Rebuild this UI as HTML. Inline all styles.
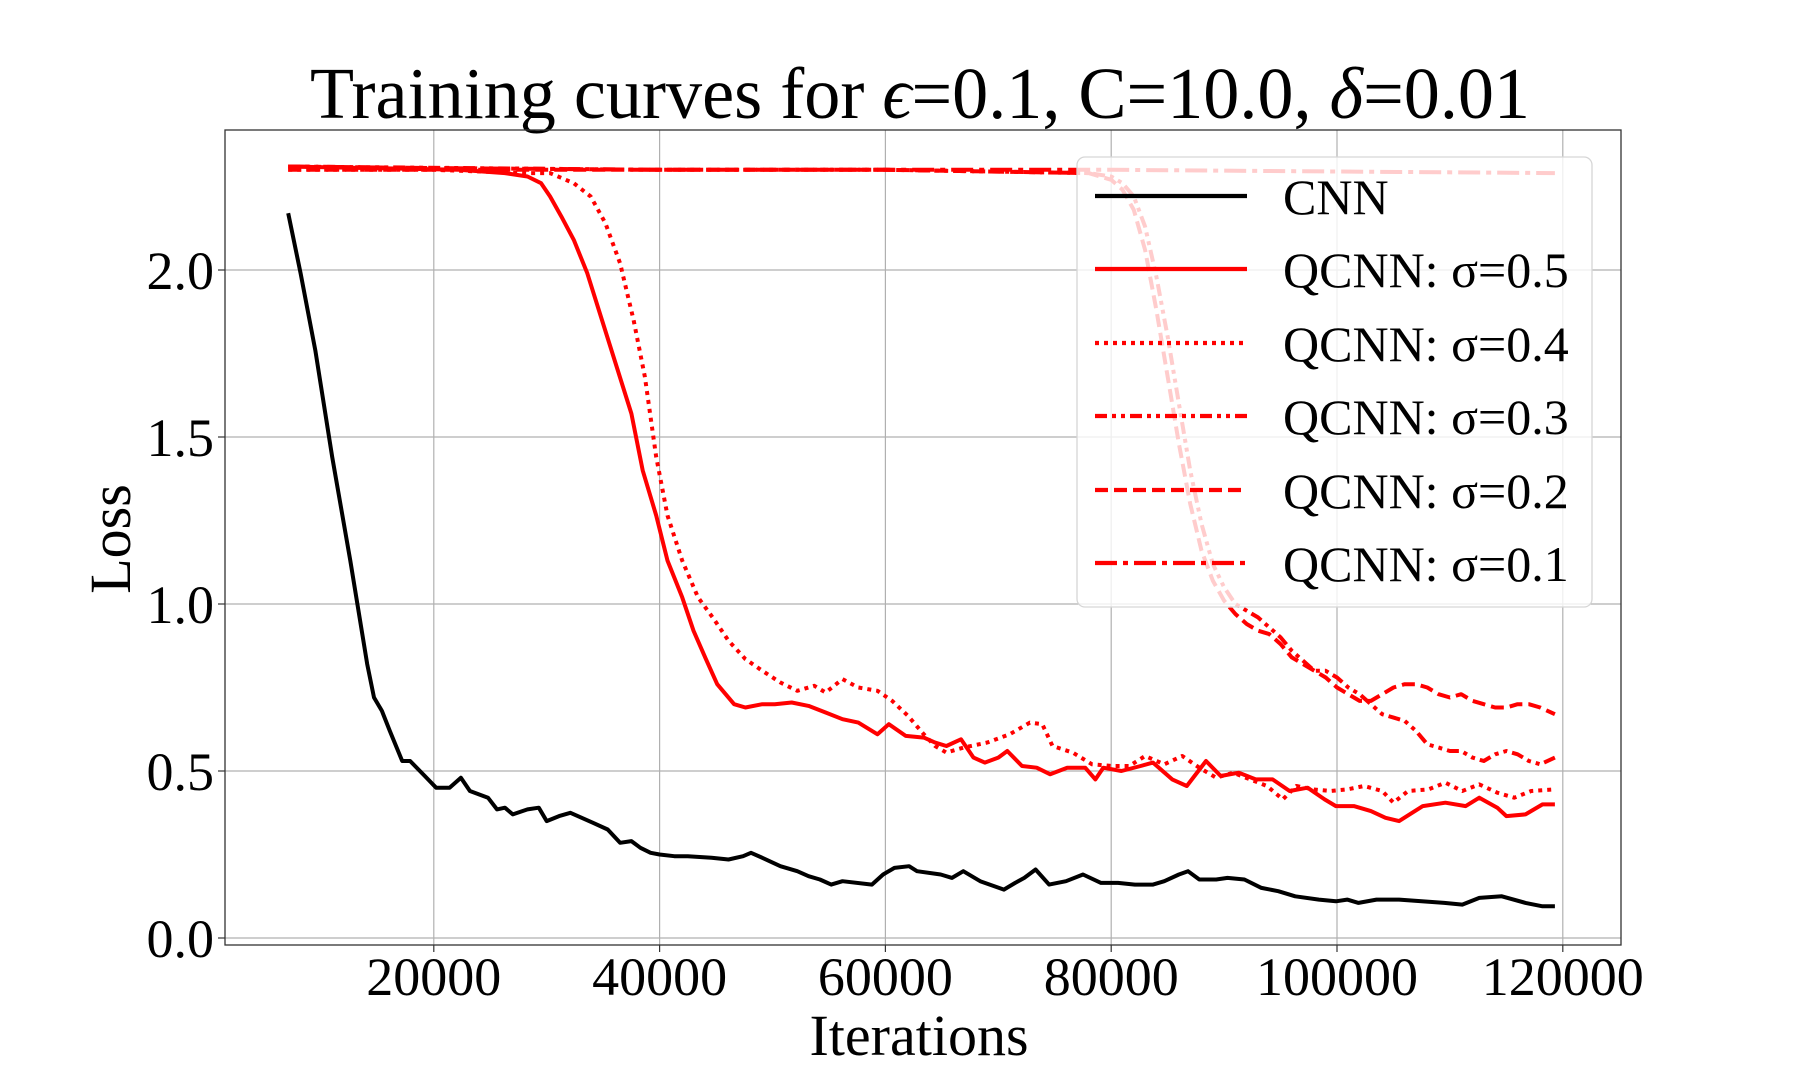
<!DOCTYPE html>
<html><head><meta charset="utf-8"><style>
html,body{margin:0;padding:0;background:#fff}
svg{display:block}
text{font-family:"Liberation Serif",serif;fill:#000}
</style></head><body>
<svg id="chart" width="1800" height="1080" viewBox="0 0 1800 1080" xmlns="http://www.w3.org/2000/svg">
<rect width="1800" height="1080" fill="#fff"/>
<text x="920" y="118" font-size="73" text-anchor="middle" textLength="1220" lengthAdjust="spacingAndGlyphs">Training curves for <tspan font-style="italic">ϵ</tspan>=0.1, C=10.0, <tspan font-style="italic">δ</tspan>=0.01</text>
<g id="grid"></g>
<g id="series"></g>
<rect x="225" y="130" width="1396" height="815" fill="none" stroke="#333" stroke-width="1.3"/>
<g id="ticks"></g>
<text x="919" y="1055" font-size="58" text-anchor="middle">Iterations</text>
<text x="0" y="0" font-size="58" text-anchor="middle" transform="translate(130,539) rotate(-90)">Loss</text>
<g id="legend"></g>
</svg>
<script>
const xTicks=[20000,40000,60000,80000,100000,120000];
const yTicks=[0.0,0.5,1.0,1.5,2.0];
const yTickLabels=["0.0","0.5","1.0","1.5","2.0"];
const cnnX=[7100,8200,9500,11000,12600,14100,14700,15400,16100,17200,17900,19200,20200,21400,22400,23200,24800,25600,26300,27000,28300,29300,30000,31100,32100,33100,34100,35400,36500,37500,38300,39200,40000,41300,42500,44600,46100,47400,48100,49100,50700,52200,53200,54200,55200,56200,58800,59800,60800,62100,62800,64900,65900,66900,68400,70500,71500,72300,73300,74500,76000,77500,79100,80600,82100,83700,84700,86000,86800,87800,89300,90300,91800,93300,94800,96300,98400,99900,100900,101900,103500,105500,107500,109500,111100,112600,114600,116700,118200,119300];
const cnnY=[2.17,1.99,1.76,1.44,1.13,0.82,0.72,0.68,0.62,0.53,0.53,0.485,0.45,0.45,0.48,0.44,0.42,0.385,0.39,0.37,0.385,0.39,0.35,0.365,0.375,0.36,0.345,0.325,0.285,0.29,0.27,0.255,0.25,0.245,0.245,0.24,0.235,0.245,0.255,0.24,0.215,0.2,0.185,0.175,0.16,0.17,0.16,0.19,0.21,0.215,0.2,0.19,0.18,0.2,0.17,0.145,0.165,0.18,0.205,0.16,0.17,0.19,0.165,0.165,0.16,0.16,0.17,0.19,0.2,0.175,0.175,0.18,0.175,0.15,0.14,0.125,0.115,0.11,0.115,0.105,0.115,0.115,0.11,0.105,0.1,0.12,0.125,0.105,0.095,0.095];
const s5X=[7100,22200,26300,28300,29500,30300,31300,32400,33600,34900,36200,37500,38500,39700,40700,42000,43000,44100,45100,46600,47600,49100,50200,51700,53200,54700,56200,57600,59300,60300,61800,63400,64400,65400,66700,67800,68800,70000,70800,72100,73400,74600,76100,77700,78600,79300,80900,82600,83700,85400,86700,88400,89700,91300,92800,94300,95800,97400,98900,99900,101500,103000,104300,105500,107600,109600,111400,112600,114200,115000,116700,118200,119300];
const s5Y=[2.31,2.30,2.29,2.28,2.26,2.22,2.16,2.09,1.99,1.85,1.71,1.57,1.40,1.265,1.13,1.02,0.92,0.835,0.76,0.70,0.69,0.70,0.70,0.705,0.695,0.675,0.655,0.645,0.61,0.64,0.605,0.60,0.585,0.575,0.595,0.54,0.525,0.54,0.56,0.515,0.51,0.49,0.51,0.51,0.475,0.51,0.50,0.515,0.525,0.475,0.455,0.53,0.485,0.495,0.475,0.475,0.44,0.45,0.415,0.395,0.395,0.38,0.36,0.35,0.395,0.405,0.395,0.42,0.39,0.365,0.37,0.40,0.40];
const s4X=[7100,20000,28000,30300,32400,33900,35200,36500,37700,38700,39700,40700,42000,43400,44800,46100,47600,49100,50700,52200,53700,54700,56200,57600,59300,60600,62000,63400,64400,65400,66900,69000,71000,72800,73900,74800,76600,78300,80100,81600,83000,84700,86300,87800,89300,90800,92300,93800,95200,96400,97900,99400,100900,102400,104000,105000,106300,108100,109600,111100,112600,114200,115700,117200,119300];
const s4Y=[2.30,2.30,2.29,2.29,2.26,2.22,2.14,2.02,1.85,1.68,1.44,1.265,1.13,1.02,0.955,0.89,0.835,0.80,0.765,0.74,0.755,0.735,0.775,0.75,0.74,0.71,0.665,0.61,0.575,0.555,0.57,0.585,0.61,0.645,0.64,0.575,0.555,0.52,0.515,0.515,0.545,0.52,0.545,0.51,0.48,0.495,0.475,0.455,0.415,0.455,0.445,0.44,0.445,0.455,0.44,0.405,0.44,0.445,0.465,0.44,0.46,0.435,0.42,0.44,0.445];
const s3X=[7100,40000,60000,78000,80000,81000,82000,83000,84000,85000,86000,87000,88000,89000,90000,91000,92000,93000,94000,95000,96000,97000,98000,99000,100000,101000,102000,103000,104000,105000,106000,107000,108000,109000,110000,111000,112000,113000,114000,115000,116000,117000,118000,119300];
const s3Y=[2.31,2.30,2.30,2.29,2.28,2.26,2.22,2.13,1.98,1.80,1.60,1.40,1.24,1.12,1.05,1.00,0.98,0.96,0.93,0.90,0.86,0.83,0.80,0.80,0.78,0.75,0.73,0.70,0.67,0.66,0.65,0.62,0.58,0.57,0.56,0.56,0.54,0.53,0.55,0.56,0.55,0.53,0.52,0.54];
const s2X=[7100,40000,60000,78000,80000,81000,82000,83000,84000,85000,86000,87000,88000,89000,90000,91000,92000,93000,94000,95000,96000,97000,98000,99000,100000,101000,102000,103000,104000,105000,106000,107000,108000,109000,110000,111000,112000,113000,114000,115000,116000,117000,118000,119300];
const s2Y=[2.30,2.30,2.30,2.29,2.27,2.24,2.18,2.06,1.88,1.68,1.48,1.30,1.16,1.07,1.01,0.97,0.94,0.92,0.91,0.88,0.84,0.82,0.80,0.78,0.75,0.73,0.71,0.71,0.73,0.75,0.76,0.76,0.75,0.73,0.72,0.73,0.71,0.70,0.69,0.69,0.70,0.70,0.69,0.67];
const s1X=[7100,20000,40000,60000,80000,100000,119300];
const s1Y=[2.31,2.305,2.30,2.30,2.30,2.295,2.29];

const X0=208, XS=225.8/20000, Y0=938, YS=334;
function xs(v){return X0+v*XS;}
function ys(v){return Y0-v*YS;}
const NS="http://www.w3.org/2000/svg";
function mk(tag,attrs,parent){const e=document.createElementNS(NS,tag);for(const k in attrs)e.setAttribute(k,attrs[k]);parent.appendChild(e);return e;}

const grid=document.getElementById('grid'), ticks=document.getElementById('ticks');
xTicks.forEach(t=>{
  const gl=mk('line',{x1:xs(t),x2:xs(t),y1:130,y2:945,stroke:'#b0b0b0','stroke-width':1.2},grid);
  
  
  const tk=mk('line',{x1:xs(t),x2:xs(t),y1:945,y2:952,stroke:'#333','stroke-width':1.2},ticks);
  
  
  const lb=mk('text',{x:xs(t),y:995,'font-size':54,'text-anchor':'middle'},ticks);
  lb.textContent=String(t);
  
  
});
yTicks.forEach((t,i)=>{
  const gl=mk('line',{x1:225,x2:1621,y1:ys(t),y2:ys(t),stroke:'#b0b0b0','stroke-width':1.2},grid);
  
  
  const tk=mk('line',{x1:218,x2:225,y1:ys(t),y2:ys(t),stroke:'#333','stroke-width':1.2},ticks);
  
  
  const lb=mk('text',{x:214,y:ys(t)+19,'font-size':54,'text-anchor':'end'},ticks);
  lb.textContent=yTickLabels[i];
  
  
});

const seriesDefs=[
 {name:'cnn',X:cnnX,Y:cnnY,color:'#000',dash:'',label:'CNN'},
 {name:'qcnn-sigma-0-5',X:s5X,Y:s5Y,color:'#f00',dash:'',label:'QCNN: σ=0.5'},
 {name:'qcnn-sigma-0-4',X:s4X,Y:s4Y,color:'#f00',dash:'4,5',label:'QCNN: σ=0.4'},
 {name:'qcnn-sigma-0-3',X:s3X,Y:s3Y,color:'#f00',dash:'12,5,4,5,4,5',label:'QCNN: σ=0.3'},
 {name:'qcnn-sigma-0-2',X:s2X,Y:s2Y,color:'#f00',dash:'13,6',label:'QCNN: σ=0.2'},
 {name:'qcnn-sigma-0-1',X:s1X,Y:s1Y,color:'#f00',dash:'22,6,5,6',label:'QCNN: σ=0.1'}
];
const sg=document.getElementById('series');
seriesDefs.slice().reverse().forEach(s=>{
  const d=s.X.map((x,i)=>(i?'L':'M')+xs(x).toFixed(1)+','+ys(s.Y[i]).toFixed(1)).join(' ');
  const p=mk('path',{d:d,fill:'none',stroke:s.color,'stroke-width':4,'stroke-linejoin':'round'},sg);
  if(s.dash)p.setAttribute('stroke-dasharray',s.dash);
  
  
});

const lg=document.getElementById('legend');
const box=mk('rect',{x:1077,y:157,width:515,height:450,rx:8,fill:'rgba(255,255,255,0.8)',stroke:'#d6d6d6','stroke-width':1.3},lg);


const rows=[196,269,343,416,490,563];
seriesDefs.forEach((s,i)=>{
  const ln=mk('line',{x1:1095,x2:1247,y1:rows[i],y2:rows[i],stroke:s.color,'stroke-width':4.2},lg);
  if(s.dash)ln.setAttribute('stroke-dasharray',s.dash);
  
  
  const t=mk('text',{x:1283,y:rows[i]+18,'font-size':50},lg);
  t.textContent=s.label;
  
  
});
</script>
</body></html>
